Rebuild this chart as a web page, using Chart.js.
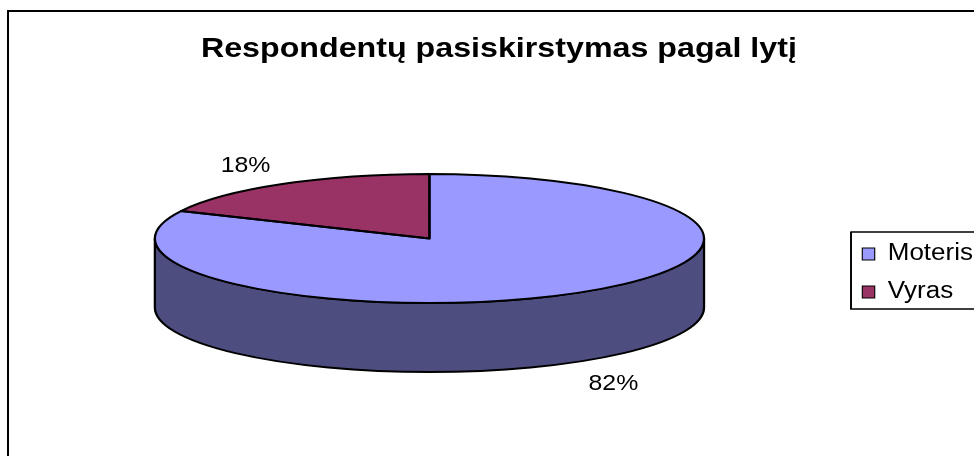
<!DOCTYPE html>
<html>
<head>
<meta charset="utf-8">
<script src="https://cdn.jsdelivr.net/npm/chart.js@4.4.0/dist/chart.umd.min.js"></script>
<style>
  html, body { margin: 0; padding: 0; background: #fff; overflow: hidden; }
  #wrap { width: 974px; height: 456px; }
</style>
</head>
<body>
<div id="wrap"><canvas id="genderPieChart" width="974" height="456"></canvas></div>
<script>
const chartTitle = 'Respondentų pasiskirstymas pagal lytį';
const genderLabels = ['Moteris', 'Vyras'];
const genderShares = [82, 18];
const topColors = ['#9999FF', '#993366'];
const sideColors = ['#4D4D80', '#4D1A33'];

const FONT = "'Liberation Sans', Arial, sans-serif";
const STRETCH_X = 1.13;   // the old excel picture is drawn a bit wider than tall
const TILT = 0.2655;      // how flat the pie looks
const DEPTH = 69;         // thickness of the pie
const EDGE = 2;

// fake 3d pie: squash the chart.js arcs and add the side wall under them
const pie3d = {
    id: 'pie3d',
    beforeDraw(chart) {
        const ctx = chart.ctx;
        ctx.save();
        ctx.lineWidth = 2;
        ctx.strokeStyle = '#000';
        ctx.strokeRect(8, 11, 1100, 600);
        ctx.scale(STRETCH_X, 1);
    },
    beforeDatasetsDraw(chart) {
        const ctx = chart.ctx;
        const arcs = chart.getDatasetMeta(0).data;
        arcs.forEach((arc, i) => {
            const {x, y, startAngle, endAngle, outerRadius: r} = arc;
            const cy = y - DEPTH / 2;
            // only the front half of the wall can be seen
            for (let k = -1; k <= 1; k++) {
                const a1 = Math.max(startAngle, 2 * Math.PI * k);
                const a2 = Math.min(endAngle, 2 * Math.PI * k + Math.PI);
                if (a2 <= a1) continue;
                ctx.beginPath();
                ctx.ellipse(x, cy, r, r * TILT, 0, a1, a2);
                ctx.ellipse(x, cy + DEPTH, r, r * TILT, 0, a2, a1, true);
                ctx.closePath();
                ctx.fillStyle = sideColors[i];
                ctx.fill();
                ctx.lineWidth = EDGE;
                ctx.lineJoin = 'round';
                ctx.strokeStyle = '#000';
                ctx.stroke();
            }
        });
        const {x, y} = arcs[0];
        ctx.save();
        ctx.translate(x, y - DEPTH / 2);
        ctx.scale(1, TILT);
        ctx.translate(-x, -y);
    },
    afterDatasetsDraw(chart) {
        const ctx = chart.ctx;
        ctx.restore();
        const arcs = chart.getDatasetMeta(0).data;
        const total = genderShares.reduce((a, b) => a + b, 0);
        arcs.forEach((arc, i) => {
            const {x, y, startAngle, endAngle, outerRadius: r} = arc;
            const cy = y - DEPTH / 2;
            ctx.beginPath();
            ctx.moveTo(x, cy);
            ctx.ellipse(x, cy, r, r * TILT, 0, startAngle, endAngle);
            ctx.closePath();
            ctx.lineWidth = EDGE;
            ctx.lineJoin = 'round';
            ctx.strokeStyle = '#000';
            ctx.stroke();

            // percent labels outside the pie
            const mid = (startAngle + endAngle) / 2;
            const lx = x + r * 1.25 * Math.cos(mid);
            let ly = cy + r * TILT * 1.37 * Math.sin(mid) + 2;
            if (Math.sin(mid) > 0) ly += DEPTH;
            ctx.font = '22px ' + FONT;
            ctx.fillStyle = '#000';
            ctx.textAlign = 'center';
            ctx.textBaseline = 'middle';
            ctx.fillText(Math.round(genderShares[i] / total * 100) + '%', lx, ly);
        });
    },
    afterDraw(chart) {
        const ctx = chart.ctx;
        // frame around the legend
        const hb = chart.legend.legendHitBoxes;
        const first = hb[0], last = hb[hb.length - 1];
        const top = first.top - 10.5;
        const bottom = last.top + last.height + 5.5;
        ctx.lineWidth = 1.7;
        ctx.strokeStyle = '#000';
        ctx.strokeRect(first.left - 10, top, 300, bottom - top);
        ctx.restore();
    }
};

const pieChart = document.getElementById('genderPieChart');
new Chart(pieChart, {
    type: 'pie',
    data: {
        labels: genderLabels,
        datasets: [{
            data: genderShares,
            backgroundColor: topColors,
            borderWidth: 0
        }]
    },
    options: {
        responsive: false,
        animation: false,
        events: [],
        radius: 243,
        clip: false,
        layout: {
            autoPadding: false,
            padding: {left: 12, right: 103, top: 0, bottom: 2}
        },
        plugins: {
            title: {
                display: true,
                text: chartTitle,
                color: '#000',
                font: {family: FONT, size: 28.5, weight: 'bold'},
                padding: {top: 32, bottom: 25.8}
            },
            legend: {
                position: 'right',
                align: 'center',
                fullSize: false,
                labels: {
                    color: '#000',
                    font: {family: FONT, size: 23},
                    boxWidth: 11,
                    boxHeight: 12,
                    padding: 15,
                    generateLabels(chart) {
                        const items = Chart.overrides.doughnut.plugins.legend.labels.generateLabels(chart);
                        return items.map(it => Object.assign(it, {strokeStyle: '#000', lineWidth: 1}));
                    }
                }
            },
            tooltip: {enabled: false}
        }
    },
    plugins: [pie3d]
});
</script>
</body>
</html>
